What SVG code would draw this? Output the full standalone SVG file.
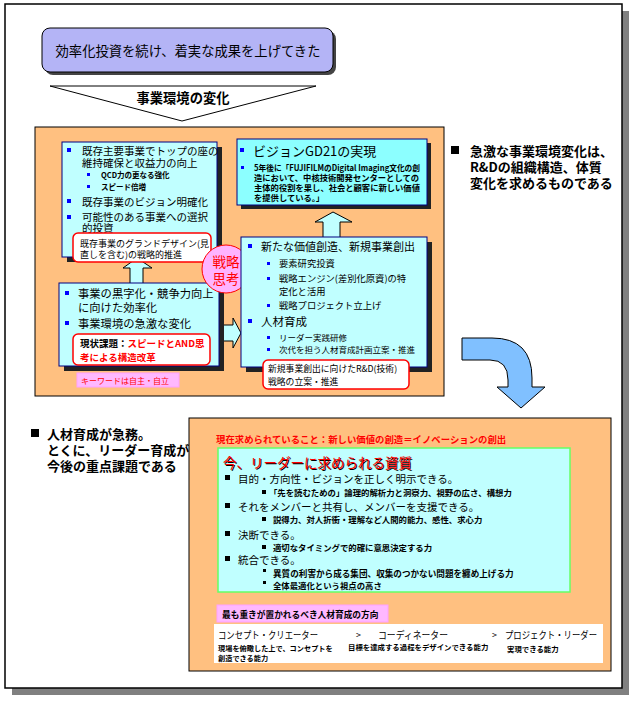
<svg xmlns="http://www.w3.org/2000/svg" width="636" height="703" viewBox="0 0 636 703">
<style>
text{font-family:"Noto Sans CJK JP","Liberation Sans",sans-serif;dominant-baseline:central;fill:#000}
.b{font-weight:bold}
.r{fill:#ff0000}
.box{fill:#c0ffff;stroke:#000080;stroke-width:1}
.shd{fill:#222}
.note{fill:#fff;stroke:#ff0000;stroke-width:1.5}
.pink{fill:#ffb8ff;stroke:#ffa0ff;stroke-width:1}
.orange{fill:#ffc080;stroke:#000;stroke-width:1}
.arw{fill:#c0ffff;stroke:#000;stroke-width:1}
.bl{fill:#0000ff}
.bk{fill:#000}
</style>
<g id="frame">
<rect x="12" y="11" width="617" height="684" fill="#808080"/>
<rect x="5" y="4" width="617" height="684" fill="#fff" stroke="#000" stroke-width="1.5"/>
</g>
<g id="top-box">
<rect x="45" y="31" width="291" height="44" rx="8" fill="#444"/>
<rect x="42" y="28" width="291" height="44" rx="8" fill="#b4b4f6" stroke="#000" stroke-width="1"/>
<text x="188" y="50" font-size="13.3" text-anchor="middle">効率化投資を続け、着実な成果を上げてきた</text>
</g>
<g id="change-triangle">
<polygon points="50,86 316,86 182,121" fill="#fff" stroke="#000" stroke-width="1"/>
<text x="183" y="97" font-size="13.3" class="b" text-anchor="middle">事業環境の変化</text>
</g>
<g id="panel-1">
<rect x="35" y="127" width="409" height="269" class="orange"/>
</g>
<g id="connectors">
<polygon points="137,258 152,268 143,268 143,284 130,284 130,268 123,268" class="arw"/>
<polygon points="333,212 352,222 340,222 340,238 323,238 323,222 315,222" class="arw"/>
<polygon points="222,325 233,325 233,318 241,333 233,348 233,341 222,341" class="arw"/>
<path d="M462,338 L492,338 Q532,338 532,378 L532,387 L545,387 L521,408 L497,387 L508,387 L508,380 Q508,360 490,360 L462,360 Z" fill="#80c0ff" stroke="#000" stroke-width="1"/>
</g>
<g id="existing-business">
<rect x="67" y="147" width="155" height="115" class="shd"/>
<rect x="62" y="142" width="155" height="115" class="box"/>
<rect x="67" y="148" width="4" height="4" class="bl"/>
<text x="82" y="150" font-size="10.5">既存主要事業でトップの座の</text>
<text x="82" y="162" font-size="10.5">維持確保と収益力の向上</text>
<rect x="87" y="173" width="3" height="3" class="bl"/>
<text x="101" y="174" font-size="7.5" class="b">QCD力の更なる強化</text>
<rect x="87" y="185" width="3" height="3" class="bl"/>
<text x="101" y="186" font-size="7.5" class="b">スピード倍増</text>
<rect x="67" y="199" width="4" height="4" class="bl"/>
<text x="82" y="201" font-size="10.5">既存事業のビジョン明確化</text>
<rect x="67" y="215" width="4" height="4" class="bl"/>
<text x="82" y="216" font-size="10.5">可能性のある事業への選択</text>
<text x="82" y="227" font-size="10.5">的投資</text>
<rect x="73" y="233" width="138" height="29" rx="5" class="note"/>
<text x="80" y="243" font-size="9">既存事業のグランドデザイン(見</text>
<text x="80" y="254" font-size="9">直しを含む)の戦略的推進</text>
</g>
<g id="efficiency">
<rect x="64" y="288" width="160" height="83" class="shd"/>
<rect x="59" y="283" width="160" height="83" class="box"/>
<rect x="65" y="291" width="4" height="4" class="bl"/>
<text x="78" y="293" font-size="11.3">事業の黒字化・競争力向上</text>
<text x="78" y="307" font-size="11.3">に向けた効率化</text>
<rect x="65" y="321" width="4" height="4" class="bl"/>
<text x="78" y="323" font-size="11.3">事業環境の急激な変化</text>
<rect x="73" y="334" width="137" height="31" rx="5" class="note"/>
<text x="80" y="343" font-size="9.5" class="b">現状課題：<tspan class="r">スピードとAND思</tspan></text>
<text x="80" y="357" font-size="9.5" class="b r">考による構造改革</text>
<rect x="77" y="373" width="102" height="14" class="pink"/>
<text x="81" y="380" font-size="8" class="r">キーワードは自主・自立</text>
</g>
<g id="strategy-circle">
<circle cx="226" cy="269" r="24" fill="#ffb3ff" stroke="#ff0000" stroke-width="1"/>
<text x="226" y="261" font-size="13.5" class="r" text-anchor="middle">戦略</text>
<text x="226" y="278" font-size="13.5" class="r" text-anchor="middle">思考</text>
</g>
<g id="vision">
<rect x="241" y="143" width="190" height="66" class="shd"/>
<rect x="237" y="139" width="190" height="66" fill="#8cffff" stroke="#000080" stroke-width="1"/>
<rect x="240" y="148" width="4" height="4" class="bl"/>
<text x="253" y="150" font-size="13">ビジョンGD21の実現</text>
<rect x="241" y="166" width="3" height="3" class="bl"/>
<text x="254" y="167" font-size="8.3" class="b" textLength="166" lengthAdjust="spacingAndGlyphs">5年後に「FUJIFILMのDigital Imaging文化の創</text>
<text x="254" y="177" font-size="8.3" class="b">造において、中核技術開発センターとしての</text>
<text x="254" y="187" font-size="8.3" class="b">主体的役割を果し、社会と顧客に新しい価値</text>
<text x="254" y="197" font-size="8.3" class="b">を提供している。」</text>
</g>
<g id="new-business">
<rect x="246" y="242" width="186" height="130" class="shd"/>
<rect x="241" y="237" width="186" height="130" class="box"/>
<rect x="248" y="244" width="4" height="4" class="bl"/>
<text x="261" y="246" font-size="11">新たな価値創造、新規事業創出</text>
<rect x="267" y="262" width="3" height="3" class="bl"/>
<text x="279" y="263" font-size="9.3">要素研究投資</text>
<rect x="267" y="277" width="3" height="3" class="bl"/>
<text x="279" y="278" font-size="9.3">戦略エンジン(差別化原資)の特</text>
<text x="279" y="291" font-size="9.3">定化と活用</text>
<rect x="267" y="304" width="3" height="3" class="bl"/>
<text x="279" y="305" font-size="9.3">戦略プロジェクト立上げ</text>
<rect x="248" y="319" width="4" height="4" class="bl"/>
<text x="261" y="321" font-size="11.5">人材育成</text>
<rect x="267" y="336" width="3" height="3" class="bl"/>
<text x="279" y="337" font-size="8.5">リーダー実践研修</text>
<rect x="267" y="348" width="3" height="3" class="bl"/>
<text x="279" y="349" font-size="8.5">次代を担う人材育成計画立案・推進</text>
<rect x="263" y="360" width="146" height="29" rx="5" class="note"/>
<text x="268" y="368" font-size="8.8">新規事業創出に向けたR&amp;D(技術)</text>
<text x="268" y="381" font-size="8.8">戦略の立案・推進</text>
</g>
<g id="statement-1">
<rect x="451" y="146" width="8" height="8" class="bk"/>
<text x="470" y="150" font-size="13" class="b">急激な事業環境変化は、</text>
<text x="470" y="166" font-size="13" class="b">R&amp;Dの組織構造、体質</text>
<text x="470" y="182" font-size="13" class="b">変化を求めるものである</text>
</g>
<g id="statement-2">
<rect x="31" y="429" width="8" height="8" class="bk"/>
<text x="47" y="433" font-size="13" class="b">人材育成が急務。</text>
<text x="47" y="449" font-size="13" class="b">とくに、リーダー育成が</text>
<text x="47" y="465" font-size="13" class="b">今後の重点課題である</text>
</g>
<g id="panel-2">
<rect x="189" y="418" width="422" height="253" class="orange"/>
<text x="216" y="439" font-size="9.4" class="b r">現在求められていること：新しい価値の創造＝イノベーションの創出</text>
</g>
<g id="leader-qualities">
<rect x="218" y="448" width="352" height="144" fill="#c0ffff" stroke="#66ff66" stroke-width="1.5"/>
<text x="224" y="463" font-size="13.5" fill="#600000">今、リーダーに求められる資質</text>
<text x="223" y="462" font-size="13.5" class="r">今、リーダーに求められる資質</text>
<rect x="225" y="475" width="5" height="5" class="bk"/>
<text x="238" y="478" font-size="10.5">目的・方向性・ビジョンを正しく明示できる。</text>
<rect x="262" y="490" width="4" height="4" class="bk"/>
<text x="269" y="492" font-size="8.4" class="b">「先を読むための」論理的解析力と洞察力、視野の広さ、構想力</text>
<rect x="225" y="503" width="5" height="5" class="bk"/>
<text x="238" y="506" font-size="10.5">それをメンバーと共有し、メンバーを支援できる。</text>
<rect x="262" y="517" width="4" height="4" class="bk"/>
<text x="273" y="519" font-size="8.4" class="b">説得力、対人折衝・理解など人間的能力、感性、求心力</text>
<rect x="225" y="531" width="5" height="5" class="bk"/>
<text x="238" y="534" font-size="10.5">決断できる。</text>
<rect x="262" y="545" width="4" height="4" class="bk"/>
<text x="273" y="547" font-size="8.4" class="b">適切なタイミングで的確に意思決定する力</text>
<rect x="225" y="556" width="5" height="5" class="bk"/>
<text x="238" y="559" font-size="10.5">統合できる。</text>
<rect x="263" y="569" width="3" height="3" class="bk"/>
<text x="273" y="573" font-size="8.6" class="b">異質の利害から成る集団、収集のつかない問題を纏め上げる力</text>
<rect x="263" y="581" width="3" height="3" class="bk"/>
<text x="273" y="585" font-size="8.4" class="b">全体最適化という視点の高さ</text>
</g>
<g id="direction">
<rect x="217" y="605" width="171" height="17" class="pink"/>
<text x="222" y="614" font-size="8.7" class="b">最も重きが置かれるべき人材育成の方向</text>
<rect x="214" y="624" width="389" height="39" fill="#fff"/>
<text x="218" y="634" font-size="10" textLength="100" lengthAdjust="spacingAndGlyphs">コンセプト・クリエーター</text>
<text x="356" y="634" font-size="9">&gt;</text>
<text x="378" y="634" font-size="10" textLength="70" lengthAdjust="spacingAndGlyphs">コーディネーター</text>
<text x="492" y="634" font-size="9">&gt;</text>
<text x="505" y="634" font-size="10" textLength="92" lengthAdjust="spacingAndGlyphs">プロジェクト・リーダー</text>
<text x="218" y="648" font-size="7.2" class="b">現場を俯瞰した上で、コンセプトを</text>
<text x="218" y="658" font-size="7.2" class="b">創造できる能力</text>
<text x="348" y="646" font-size="7.4" class="b">目標を達成する過程をデザインできる能力</text>
<text x="507" y="648" font-size="7.4" class="b">実現できる能力</text>
</g>
</svg>
